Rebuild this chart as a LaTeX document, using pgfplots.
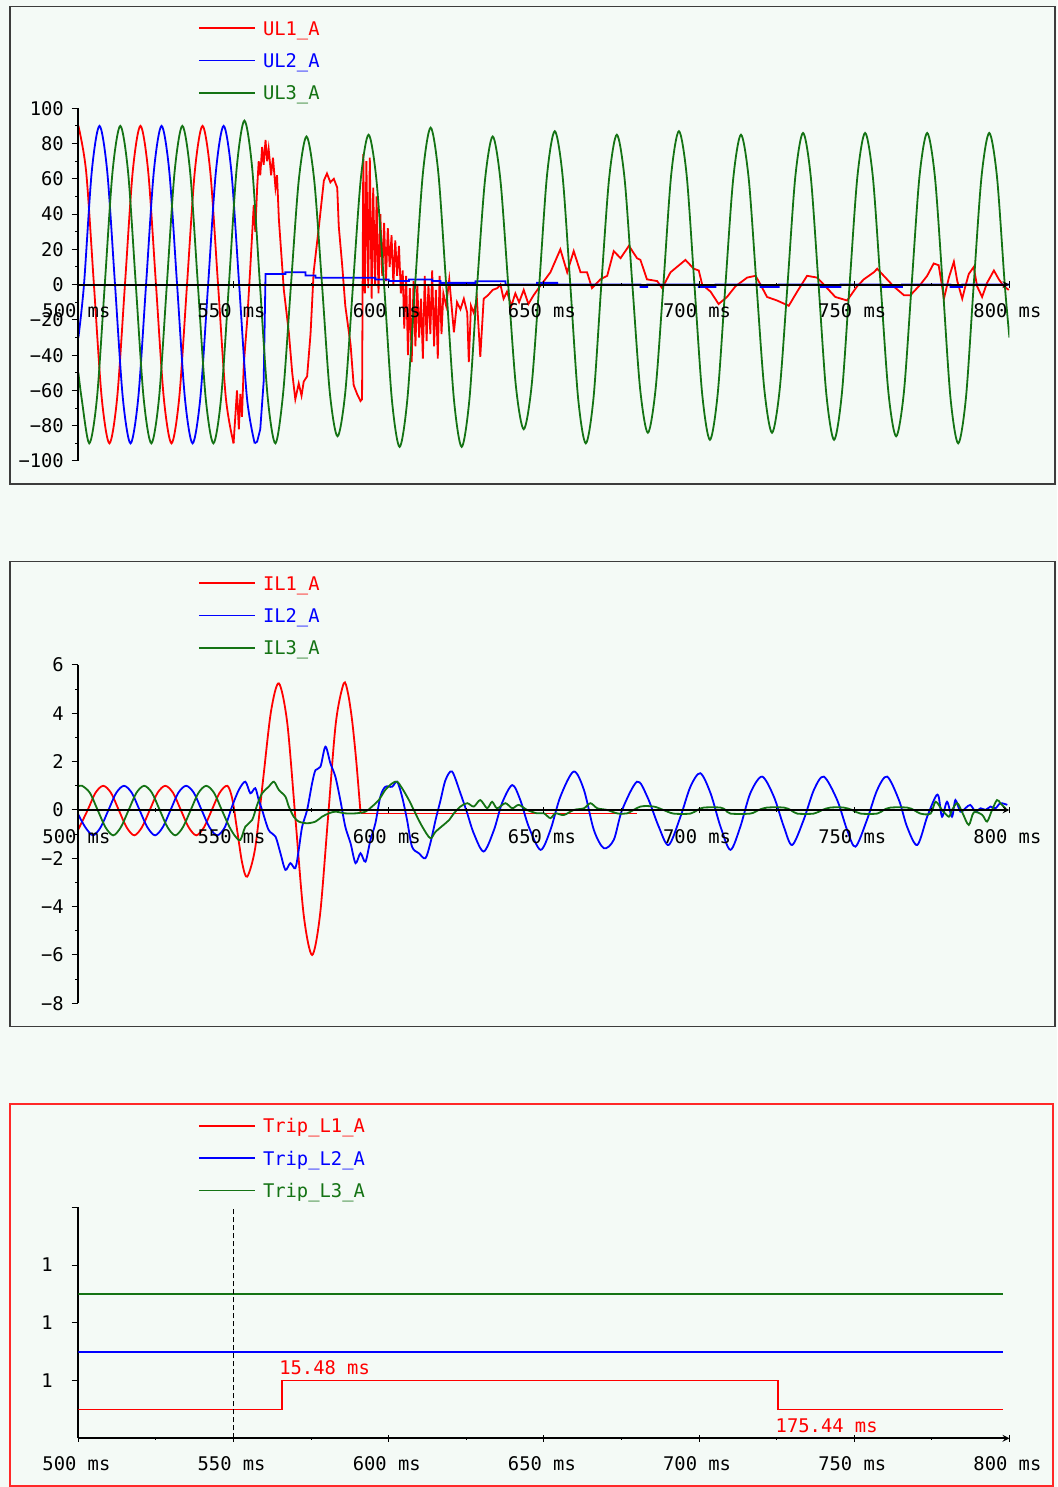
\documentclass[border=0pt]{standalone}
\usepackage{fontspec}
\setmainfont{DejaVu Sans Mono}
\usepackage{pgfplots}
\pgfplotsset{compat=1.18}
\definecolor{bgc}{RGB}{244,250,246}
\definecolor{cR}{RGB}{255,0,0}
\definecolor{cB}{RGB}{0,0,255}
\definecolor{cG}{RGB}{20,115,20}
\definecolor{frm}{RGB}{60,60,60}
\definecolor{frr}{RGB}{255,40,40}
\newcommand{\ff}{\fontsize{18.8bp}{22bp}\selectfont}
\pgfplotsset{
 panel/.style={
  scale only axis, width=931bp,
  xmin=500, xmax=800,
  axis y line=left,
  axis line style={-, black, line width=2bp},
  every inner x axis line/.append style={-},
  every outer x axis line/.append style={-},
  every inner y axis line/.append style={-},
  every outer y axis line/.append style={-},
  xtick={500,550,...,800},
  xticklabels={500 ms,550 ms,600 ms,650 ms,700 ms,750 ms,800 ms},
  minor x tick num=1,
  tick align=outside,
  major tick length=6.7bp, minor tick length=3.4bp,
  tick style={black, line width=1bp},
  hide obscured x ticks=false, hide obscured y ticks=false,
  ticklabel style={font=\ff, inner sep=0pt},
  yticklabel style={anchor=east, xshift=-7.7bp},
  xticklabel style={anchor=north, xshift=-2bp, yshift=-12bp},
  legend image code/.code={\draw[#1, line width=1.8bp] (0bp,6.85bp) -- (56.4bp,6.85bp);},
  legend style={anchor=north west, draw=none, fill=none, inner sep=0pt, outer sep=0pt,
    row sep=13.3bp, column sep=6.8bp, font=\ff, cells={anchor=base west},
    nodes={inner sep=0pt, outer sep=0pt, text height=14bp, text depth=5bp}},
 },
 ln/.style={line width=1.8bp},
}
\begin{document}
\begin{tikzpicture}[x=1bp,y=1bp]
\path[use as bounding box] (0,0) rectangle (1057,1487);
\fill[bgc] (0,0) rectangle (1057,1487);
\draw[frm, line width=1.6bp] (10,1003) rectangle (1055,1480.3);
\draw[frm, line width=1.6bp] (10,460.3) rectangle (1055,925.3);
\draw[frr, line width=1.6bp] (10,1.3) rectangle (1052.7,383);

% ---------------- Panel 1 ----------------
\begin{axis}[panel, at={(78.4bp,1026bp)}, anchor=south west, height=352.7bp,
  ymin=-100, ymax=100, axis x line=middle, axis on top,
  ytick={-100,-80,...,100}, yticklabels={−100,−80,−60,−40,−20,0,20,40,60,80,100},
  minor y tick num=1,
  xticklabel style={yshift=-3bp},
  legend style={at={(axis description cs:0.1285,1.2471)}}]
\addplot[cR, ln, smooth] coordinates {(500,90) (502.5,64) (505,0) (507.5,-64) (510,-90) (512.5,-64) (515,0) (517.5,64) (520,90) (522.5,64) (525,0) (527.5,-64) (530,-90) (532.5,-64) (535,0) (537.5,64) (540,90) (542.5,64) (545,0) (547.5,-64) (550,-90)};
\addlegendentry{\textcolor{cR}{UL1\_A}}
\addplot[cR, ln, forget plot] coordinates {(550,-90) (551.1,-60) (551.7,-82) (552.2,-62) (552.7,-75) (553.3,-45) (554.4,-20) (555.4,10) (556.5,45) (557.0,30) (557.6,55) (558.1,70) (558.6,62) (559.2,78) (559.7,68) (560.3,82) (560.8,70) (561.3,77) (562.1,62) (562.7,72) (563.5,55) (564.0,62) (564.6,37) (566.2,-3) (567.8,-27) (568.9,-50) (569.9,-65) (571.0,-56) (571.9,-63) (572.6,-55) (573.7,-52) (574.8,-28) (575.8,7) (577.5,33) (579.1,59) (580.1,63) (581.2,58) (582.3,60) (583.4,55) (583.9,33) (585.0,11) (586.0,-12) (587.7,-34) (588.7,-57) (589.8,-62) (590.9,-66) (591.4,-65) (591.8,74) (592.3,-5) (592.8,70) (593.4,-2) (593.9,72) (594.5,-8) (595.0,55) (595.6,0) (596.1,50) (596.7,-5) (597.3,40) (597.9,5) (598.5,35) (599.1,2) (599.7,32) (600.3,10) (600.9,28) (601.5,0) (602.1,25) (602.7,5) (603.3,22) (603.9,-5) (604.5,8) (605.0,-25) (605.6,5) (606.2,-40) (606.8,-2) (607.4,-44) (608.0,2) (608.6,-35) (609.2,0) (609.8,-30) (610.4,-8) (611.0,-42) (611.6,5) (612.2,-32) (612.8,0) (613.4,-28) (614.0,8) (614.6,-35) (615.2,-3) (615.8,-42) (616.4,5) (617.0,-28) (617.6,-5) (618.5,-12) (619.5,3) (621.0,-27) (622.0,-10) (623.1,-14) (624.2,-8) (625.3,-16) (625.8,-44) (626.5,-12) (627.4,-16) (628.4,-8) (629.5,-41) (630.6,-8) (632.0,-6) (633.5,-3) (635.0,-2) (636.0,0) (637.0,-8) (638.1,-4) (639.5,-12) (640.8,-5) (642.0,-10) (643.5,-3) (645.0,-11) (646.7,-6) (648.3,-2) (650.0,2) (652.1,7) (655.3,20) (657.5,7) (659.6,19) (661.8,7) (663.9,7) (665.5,-2) (668.2,3) (670.4,5) (672.5,19) (674.7,15) (677.4,22) (680.0,15) (681.1,14) (683.2,3) (686.5,2) (688.1,-2) (690.8,7) (695.6,14) (698.3,9) (699.9,8) (701.0,0) (703.7,-4) (706.3,-11) (709.0,-7) (711.7,-1) (715.5,4) (718.2,5) (719.8,0) (721.9,-7) (725.1,-9) (728.9,-12) (731.6,-4) (734.8,5) (738.0,4) (740.2,0) (743.9,-7) (747.7,-9) (750.9,-1) (753.1,3) (756.3,7) (757.4,9) (759.5,5) (762.7,-1) (766.0,-6) (768.1,-6) (771.3,0) (773.5,5) (775.6,12) (777.2,11) (778.3,-1) (778.9,-8) (780.5,4) (782.1,13) (783.2,2) (784.8,-8) (785.8,-1) (786.9,6) (788.5,10) (789.6,-1) (791.2,-7) (792.8,1) (795.0,8) (796.6,3) (798.2,-1) (799.8,-3)};
\addplot[cB, ln, smooth] coordinates {(500,-30) (501.8,0) (504.3,64) (506.8,90) (509.3,64) (511.8,0) (514.3,-64) (516.8,-90) (519.3,-64) (521.8,0) (524.3,64) (526.8,90) (529.3,64) (531.8,0) (534.3,-64) (536.8,-90) (539.3,-64) (541.8,0) (544.3,64) (546.8,90) (549.3,64) (551.8,0) (554.3,-64) (556.8,-90)};
\addlegendentry{\textcolor{cB}{UL2\_A}}
\addplot[cB, ln, forget plot] coordinates {(556.8,-90) (557.6,-89) (558.6,-82) (559.7,-55) (560.3,6) (566.7,6) (566.7,7) (573.2,7) (573.2,5.2) (576.4,5.2) (576.4,3.9) (595.7,3.9) (595.7,2.9) (600,2.9) (600,2) (606.5,2) (606.5,2.9) (614,2.9) (614,2) (616.7,2) (616.7,1) (628,1) (628,1.9) (637.6,1.9) (637.6,0) (647.8,0) (647.8,1) (654.3,1) (654.3,0) (681.1,0) (681.1,-1.4) (683.3,-1.4) (683.3,0) (699.9,0) (699.9,-1.4) (705.3,-1.4) (705.3,0) (719.8,0) (719.8,-1.4) (725.7,-1.4) (725.7,0) (739.1,0) (739.1,-1.4) (745.6,-1.4) (745.6,0) (759,0) (759,-1.4) (765.4,-1.4) (765.4,0) (781,0) (781,-1.4) (784.8,-1.4) (784.8,0) (800,0)};
\addplot[cG, ln, smooth] coordinates {(500,-50) (501,-64) (503.5,-90) (506,-64) (508.5,0) (511,64) (513.5,90) (516,64) (518.5,0) (521,-64) (523.5,-90) (526,-64) (528.5,0) (531,64) (533.5,90) (536,64) (538.5,0) (541,-64) (543.5,-90) (546,-64) (548.5,0) (551,66) (553.5,93) (556,66) (558.5,0) (561,-64) (563.5,-90) (566,-61) (568.5,0) (571,59) (573.5,84) (576,59) (578.5,0) (581,-61) (583.5,-86) (586,-61) (588.5,0) (591,60) (593.5,85) (596,60) (598.5,0) (601,-65) (603.5,-92) (606,-65) (608.5,0) (611,63) (613.5,89) (616,63) (618.5,0) (621,-65) (623.5,-92) (626,-65) (628.5,0) (631,59) (633.5,84) (636,59) (638.5,0) (641,-58) (643.5,-82) (646,-58) (648.5,0) (651,62) (653.5,87) (656,62) (658.5,0) (661,-64) (663.5,-90) (666,-64) (668.5,0) (671,60) (673.5,85) (676,60) (678.5,0) (681,-59) (683.5,-84) (686,-59) (688.5,0) (691,62) (693.5,87) (696,62) (698.5,0) (701,-62) (703.5,-88) (706,-62) (708.5,0) (711,60) (713.5,85) (716,60) (718.5,0) (721,-59) (723.5,-84) (726,-59) (728.5,0) (731,61) (733.5,86) (736,61) (738.5,0) (741,-62) (743.5,-88) (746,-62) (748.5,0) (751,61) (753.5,86) (756,61) (758.5,0) (761,-61) (763.5,-86) (766,-61) (768.5,0) (771,61) (773.5,86) (776,61) (778.5,0) (781,-64) (783.5,-90) (786,-64) (788.5,0) (791,61) (793.5,86) (796,61) (798.5,0) (800,-30)};
\addlegendentry{\textcolor{cG}{UL3\_A}}
\end{axis}

% ---------------- Panel 2 ----------------
\begin{axis}[panel, at={(78.4bp,483.7bp)}, anchor=south west, height=338.3bp,
  ymin=-8, ymax=6, axis x line=middle, axis on top,
  ytick={-8,-6,...,6}, yticklabels={−8,−6,−4,−2,0,2,4,6},
  minor y tick num=1,
  xticklabel style={yshift=-4bp},
  legend style={at={(axis description cs:0.1285,1.2627)}}]
\addplot[cR, ln, smooth] coordinates {(500,-0.8) (503,0) (505.5,0.71) (508,1) (510.5,0.71) (513,0) (515.5,-0.71) (518,-1.05) (520.5,-0.71) (523,0) (525.5,0.71) (528,1) (530.5,0.71) (533,0) (535.5,-0.71) (538,-1.05) (540.5,-0.71) (543,0) (545.5,0.71) (548,1) (549.6,0.45) (551.2,-0.88) (552.8,-2.21) (554.4,-2.76) (556.95,-1.59) (559.5,1.24) (562.05,4.07) (564.6,5.24) (567.3,3.6) (569.95,-0.38) (572.6,-4.35) (575.3,-6.0) (577.85,-4.35) (580.4,-0.38) (582.95,3.6) (585.5,5.24) (586.85,4.84) (588.2,3.7) (589.55,2.0) (590.9,-0.1)};
\addlegendentry{\textcolor{cR}{IL1\_A}}
\addplot[cR, ln, forget plot] coordinates {(590.9,-0.15) (680,-0.15)};
\addplot[cB, ln, smooth] coordinates {(500,-0.2) (502.2,-0.71) (504.7,-1.05) (507.2,-0.71) (509.7,0) (512.2,0.71) (514.7,1) (517.2,0.71) (519.7,0) (522.2,-0.71) (524.7,-1.05) (527.2,-0.71) (529.7,0) (532.2,0.71) (534.7,1) (537.2,0.71) (539.7,0) (542.2,-0.71) (544.7,-1.05) (547.2,-0.71) (549.5,0.14) (551.7,0.83) (553.8,1.17) (555.4,0.69) (557.0,0.9) (558.1,0.41) (559.2,0) (561.3,-0.83) (563.5,-1.1) (565.1,-1.79) (566.7,-2.48) (568.3,-2.2) (569.9,-2.41) (571.0,-1.65) (572.1,-0.69) (573.7,0) (575.3,1.1) (576.4,1.65) (578.0,1.79) (579.6,2.62) (581.2,1.93) (582.8,1.38) (584.4,0.41) (586.0,-0.69) (587.7,-1.38) (589.3,-2.2) (590.9,-1.79) (592.5,-2.14) (594.1,-1.24) (595.7,-0.55) (597.3,0.55) (598.9,0.96) (601.1,0.96) (602.7,1.17) (604.3,0.55) (605.9,-0.41) (607.5,-1.52) (609.7,-1.79) (611.8,-2.0) (613.4,-1.38) (615.1,-0.41) (616.7,0.41) (618.3,1.24) (620.4,1.59) (623.1,0.69) (625.3,-0.14) (627.4,-0.97) (630.6,-1.72) (633.9,-0.83) (636.5,0.28) (639.8,1.03) (642.4,0.41) (645.1,-0.69) (648.9,-1.65) (652.1,-0.83) (655.3,0.55) (659.6,1.59) (662.9,0.83) (666.1,-0.83) (669.3,-1.58) (672.5,-1.24) (675.2,0) (680.0,1.17) (683.3,0.55) (687.0,-0.69) (690.2,-1.45) (694.0,-0.28) (697.2,0.96) (700.4,1.52) (703.7,0.69) (706.9,-0.69) (710.1,-1.65) (713.3,-0.69) (716.5,0.69) (720.3,1.38) (724.1,0.55) (727.3,-0.69) (730.0,-1.45) (733.7,-0.41) (737.0,0.83) (740.2,1.38) (744.5,0.41) (747.7,-0.83) (750.4,-1.52) (754.1,-0.41) (757.4,0.83) (760.6,1.38) (764.4,0.41) (767.0,-0.69) (770.3,-1.45) (773.5,-0.28) (776.2,0.55) (777.2,0.55) (778.3,-0.28) (779.9,0.34) (781.5,-0.28) (782.6,0.41) (784.2,-0.07) (785.8,0.07) (787.4,0.21) (789.1,-0.07) (790.7,0.07) (792.3,0) (793.9,0.14) (795.5,0.07) (797.1,0.28) (799.3,0.21)};
\addlegendentry{\textcolor{cB}{IL2\_A}}
\addplot[cG, ln, smooth] coordinates {(500,0.98) (501.2,1) (503.7,0.71) (506.2,0) (508.7,-0.71) (511.2,-1.05) (513.7,-0.71) (516.2,0) (518.7,0.71) (521.2,1) (523.7,0.71) (526.2,0) (528.7,-0.71) (531.2,-1.05) (533.7,-0.71) (536.2,0) (538.7,0.71) (541.2,1) (543.7,0.71) (546.2,0) (548.7,-0.71) (550.6,-1.1) (552.2,-1.24) (553.8,-0.69) (556.0,-0.41) (557.6,0.21) (559.2,0.69) (561.3,0.96) (563.0,1.17) (564.6,0.83) (566.7,0.55) (567.8,0.14) (569.4,-0.28) (571.0,-0.48) (573.7,-0.55) (576.4,-0.48) (578.5,-0.28) (580.7,-0.14) (582.8,-0.07) (586.0,-0.14) (589.3,-0.14) (592.5,-0.07) (594.6,0.14) (596.8,0.41) (598.9,0.83) (601.1,1.1) (602.7,1.17) (604.3,0.9) (606.5,0.41) (608.6,-0.14) (610.8,-0.69) (613.4,-1.17) (615.1,-0.9) (618.3,-0.55) (619.5,-0.41) (621.0,-0.14) (623.1,0.14) (625.3,0.28) (627.4,0.14) (629.5,0.41) (631.7,0.07) (633.3,0.34) (634.9,0.07) (637.6,0.28) (639.8,0.07) (641.9,0.21) (644.6,0) (647.8,-0.14) (650.0,-0.14) (652.1,-0.34) (653.7,-0.14) (656.4,-0.21) (659.6,0) (662.9,0.07) (665.0,0.28) (667.2,0.07) (670.4,0) (673.6,-0.14) (676.8,-0.14) (681.1,0.14) (685.4,0.14) (688.5,0) (691.8,-0.15) (697.2,-0.15) (699.5,0) (701.5,0.1) (706.9,0.1) (708.5,0) (710.1,-0.15) (716.5,-0.15) (719.2,0) (721.9,0.1) (727.3,0.1) (729.5,0) (731.6,-0.15) (737.0,-0.15) (739.7,0) (742.3,0.1) (746.6,0.1) (749.3,0) (752.0,-0.15) (757.4,-0.15) (759.5,0) (761.7,0.1) (767.0,0.1) (769.2,0) (771.3,-0.15) (774.6,-0.15) (776.2,0.34) (778.3,0) (780.5,-0.28) (781.5,0) (783.2,0.28) (784.8,-0.1) (786.9,-0.62) (788.5,-0.1) (791.2,-0.2) (792.8,-0.48) (794.4,0) (796.0,0.41) (797.1,0.28) (798.7,0.07)};
\addlegendentry{\textcolor{cG}{IL3\_A}}
\end{axis}

% ---------------- Panel 3 ----------------
\begin{axis}[panel, at={(78.4bp,48.7bp)}, anchor=south west, height=231bp,
  ymin=0, ymax=4, axis x line=bottom,
  ytick={1,2,3,4}, yticklabels={1,1,1,{}},
  yticklabel style={xshift=-11bp},
  xticklabel style={yshift=-3bp},
  legend style={at={(axis description cs:0.1285,1.3829)}}]
\addplot[cR, ln] coordinates {(500,0.5) (565.48,0.5) (565.48,1) (725.44,1) (725.44,0.5) (798,0.5)};
\addlegendentry{\textcolor{cR}{Trip\_L1\_A}}
\addplot[cB, ln] coordinates {(500,1.5) (798,1.5)};
\addlegendentry{\textcolor{cB}{Trip\_L2\_A}}
\addplot[cG, ln] coordinates {(500,2.5) (798,2.5)};
\addlegendentry{\textcolor{cG}{Trip\_L3\_A}}
\addplot[black, line width=1.2bp, dash pattern=on 5bp off 3bp, forget plot] coordinates {(550,0) (550,4)};
\node[anchor=base west, text=cR, font=\ff, inner sep=0pt, xshift=-2.5bp, yshift=6bp] at (axis cs:565.48,1) {15.48 ms};
\node[anchor=base west, text=cR, font=\ff, inner sep=0pt, xshift=-2.5bp, yshift=-23.3bp] at (axis cs:725.44,0.5) {175.44 ms};
\end{axis}
\end{tikzpicture}
\end{document}
